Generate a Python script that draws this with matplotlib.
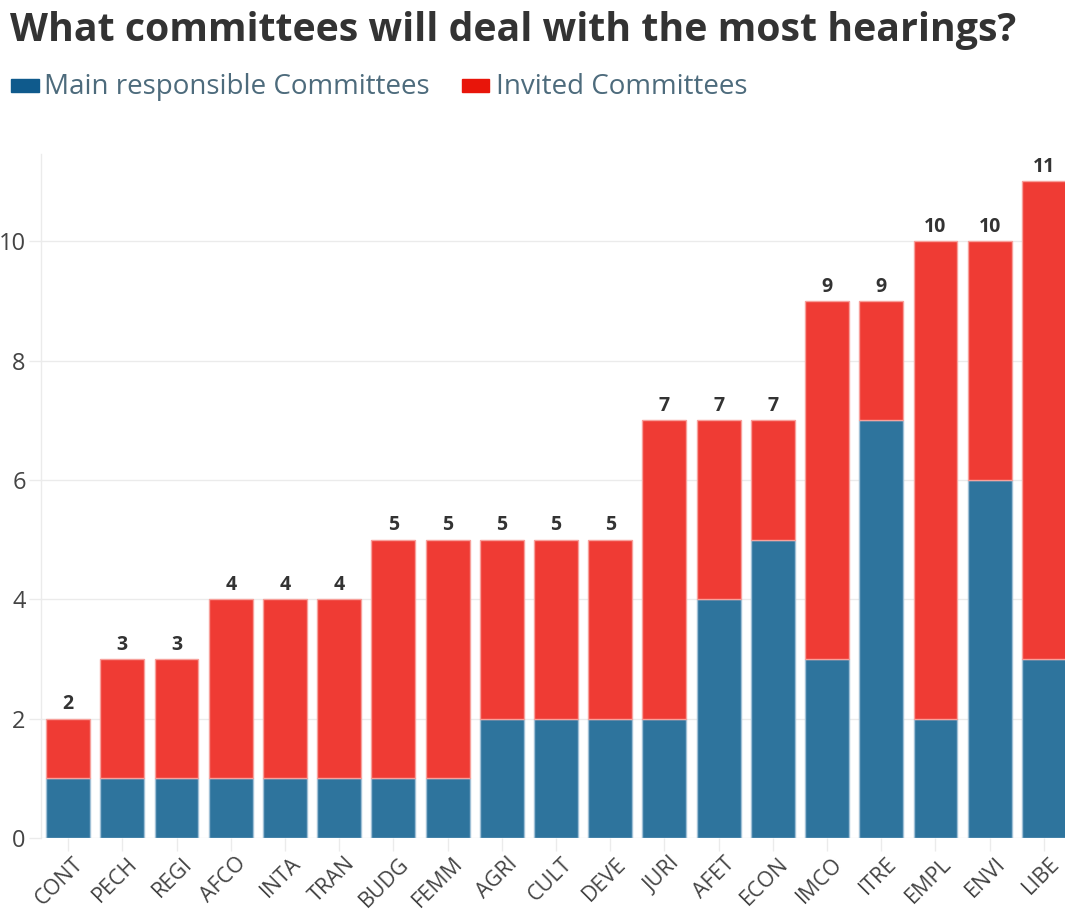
import matplotlib
matplotlib.use('Agg')
import matplotlib.pyplot as plt
from matplotlib.patches import Rectangle
from matplotlib.transforms import ScaledTranslation

plt.rcParams['font.family'] = ['Open Sans', 'DejaVu Sans']

# data
committees = ['CONT', 'PECH', 'REGI', 'AFCO', 'INTA', 'TRAN', 'BUDG', 'FEMM', 'AGRI', 'CULT',
              'DEVE', 'JURI', 'AFET', 'ECON', 'IMCO', 'ITRE', 'EMPL', 'ENVI', 'LIBE']
main_resp = [1, 1, 1, 1, 1, 1, 1, 1, 2, 2, 2, 2, 4, 5, 3, 7, 2, 6, 3]
invited = [1, 2, 2, 3, 3, 3, 4, 4, 3, 3, 3, 5, 3, 2, 6, 2, 8, 4, 8]
totals = [m + i for m, i in zip(main_resp, invited)]
y_ticks = [0, 2, 4, 6, 8, 10]

blue = '#2e749d'
red = '#ef3b34'
grey_text = '#444444'
grid_col = '#ebebeb'

fig = plt.figure(figsize=(10.65, 9.13), dpi=100)
# axes run off the right edge like the original screenshot
ax = fig.add_axes([41 / 1065, 75 / 913, 1030 / 1065, 684 / 913])

x = list(range(len(committees)))
ax.bar(x, main_resp, width=0.81, color=blue, edgecolor='#9fc0d6', linewidth=1, zorder=3)
ax.bar(x, invited, width=0.81, bottom=main_resp, color=red, edgecolor='#f7a09b', linewidth=1, zorder=3)

# totals above bars
for xi, t in zip(x, totals):
    ax.annotate(str(t), (xi, t), xytext=(0, 3), textcoords='offset points',
                ha='center', va='bottom', fontsize=14, fontweight='bold', color='#333333')

ax.set_xlim(-0.5, len(committees) - 0.5)
ax.set_ylim(0, 11.46)
ax.set_yticks(y_ticks)
ax.set_yticklabels([str(v) for v in y_ticks], fontsize=17, color=grey_text)
ax.set_xticks(x)
ax.set_xticklabels(committees, rotation=45, ha='right', va='top', rotation_mode='anchor',
                   fontsize=15.5, color=grey_text)
ax.tick_params(axis='both', length=9, width=1, color=grid_col)
ax.tick_params(axis='x', pad=2)
ax.tick_params(axis='y', pad=2)
# nudge rotated labels a little to the right, like the original
shift = ScaledTranslation(5 / 100, 0, fig.dpi_scale_trans)
for lbl in ax.get_xticklabels():
    lbl.set_transform(lbl.get_transform() + shift)
ax.grid(axis='y', color=grid_col, linewidth=1, zorder=0)
for s in ['top', 'right', 'bottom']:
    ax.spines[s].set_visible(False)
ax.spines['left'].set_color(grid_col)
ax.spines['left'].set_linewidth(1)

# title and legend
fig.text(10 / 1065, 1 - 30 / 913, 'What committees will deal with the most hearings?',
         fontsize=28.3, fontweight='bold', color='#333333', va='center', ha='left')
fig.patches.append(Rectangle((11 / 1065, 1 - 92 / 913), 28 / 1065, 13 / 913,
                             transform=fig.transFigure, color='#0f5a8c'))
fig.text(44 / 1065, 1 - 87 / 913, 'Main responsible Committees', fontsize=20,
         color='#4d6b7c', va='center', ha='left')
fig.patches.append(Rectangle((462 / 1065, 1 - 92 / 913), 27 / 1065, 13 / 913,
                             transform=fig.transFigure, color='#e8150a'))
fig.text(496 / 1065, 1 - 87 / 913, 'Invited Committees', fontsize=20,
         color='#4d6b7c', va='center', ha='left')

fig.savefig('out.png', dpi=100)
